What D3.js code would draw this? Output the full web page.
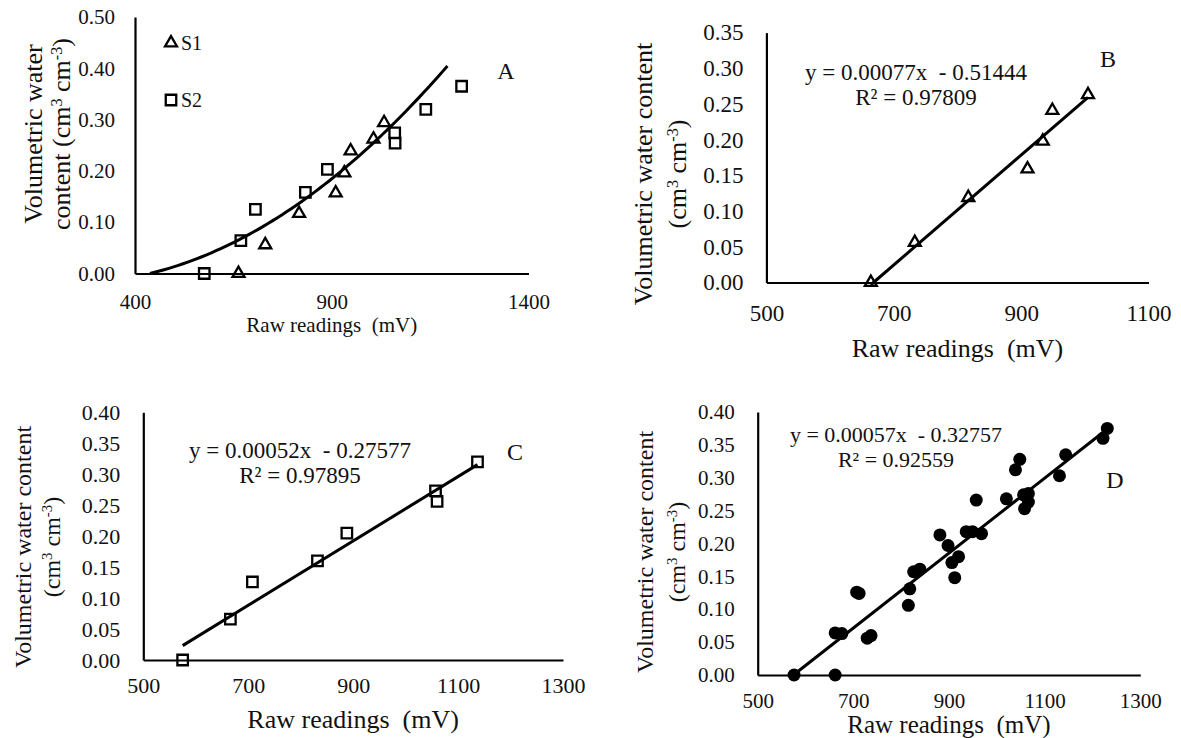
<!DOCTYPE html>
<html>
<head>
<meta charset="utf-8">
<script src="https://cdn.jsdelivr.net/npm/d3@7"></script>
<style>
  body { margin: 0; background: #fff; }
  svg text { font-family: "Liberation Serif", "Times New Roman", serif; fill: #111; }
</style>
</head>
<body>
<script>
// values (raw reading in mV, water content in cm3 cm-3)

// panel A: two sensors
var s1Raw = [663, 731, 817, 910, 932, 948, 1006, 1033];
var s1Vwc = [0, 0.056, 0.117, 0.157, 0.196, 0.239, 0.262, 0.294];
var s2Raw = [576, 669, 706, 833, 889, 1060, 1061, 1139, 1230];
var s2Vwc = [0, 0.064, 0.125, 0.158, 0.203, 0.274, 0.254, 0.320, 0.365];
var fitA = [4.62e-7, -0.000219, 0.0074];   // quadratic trend, a x^2 + b x + c
var fitARange = [438, 1202];

// panel B: S1 only
var bRaw = [664, 733, 817, 910, 934, 949, 1005];
var bVwc = [0, 0.056, 0.119, 0.159, 0.198, 0.241, 0.263];
var fitB = [0.00077, -0.51444];

// panel C: S2 only
var cRaw = [575, 666, 708, 832, 888, 1057, 1060, 1137];
var cVwc = [0, 0.066, 0.126, 0.160, 0.205, 0.273, 0.256, 0.320];
var fitC = [0.00052, -0.27577];

// panel D: all readings
var dRaw = [576, 662, 662, 676, 729, 737, 707, 712, 815, 818, 826, 839, 881, 898, 906, 920, 912,
            936, 949, 968, 957, 1020, 1039, 1048, 1056, 1066, 1058, 1066, 1131, 1144, 1222, 1231];
var dVwc = [0, 0, 0.064, 0.063, 0.056, 0.060, 0.126, 0.124, 0.106, 0.131, 0.157, 0.161, 0.213, 0.197, 0.171, 0.180, 0.148,
            0.218, 0.218, 0.215, 0.266, 0.268, 0.312, 0.328, 0.274, 0.276, 0.253, 0.263, 0.303, 0.335, 0.360, 0.375];
var fitD = [0.00057, -0.32757];

// tick labels
var xTicksA = [400, 900, 1400];
var yTicksA = [0, 0.1, 0.2, 0.3, 0.4, 0.5];
var xTicksB = [500, 700, 900, 1100];
var yTicksB = [0, 0.05, 0.1, 0.15, 0.2, 0.25, 0.3, 0.35];
var xTicksCD = [500, 700, 900, 1100, 1300];
var yTicksCD = [0, 0.05, 0.1, 0.15, 0.2, 0.25, 0.3, 0.35, 0.4];

var svg = d3.select('body').append('svg')
    .attr('width', 1181).attr('height', 738);

// one scatter panel: axes, titles, returns scales
function panel(p) {
    var x = d3.scaleLinear().domain(p.xDomain).range([p.left, p.right]);
    var y = d3.scaleLinear().domain(p.yDomain).range([p.bottom, p.top]);
    var g = svg.append('g');

    var ax = g.append('g')
        .attr('transform', 'translate(0,' + p.bottom + ')')
        .call(d3.axisBottom(x).tickValues(p.xTicks).tickSize(0).tickPadding(p.xPad).tickFormat(d3.format('d')));
    var ay = g.append('g')
        .attr('transform', 'translate(' + p.left + ',0)')
        .call(d3.axisLeft(y).tickValues(p.yTicks).tickSize(0).tickPadding(p.yPad).tickFormat(d3.format('.2f')));
    [ax, ay].forEach(function (a) {
        a.attr('font-family', null).attr('font-size', p.tickFont);
        a.select('.domain').attr('stroke', '#000').attr('stroke-width', 2.2);
    });

    // x title
    g.append('text')
        .attr('x', (p.left + p.right) / 2).attr('y', p.xTitleY)
        .attr('text-anchor', 'middle').attr('font-size', p.xTitleFont)
        .style('white-space', 'pre')
        .text('Raw readings  (mV)');

    // y title, two rotated lines
    p.yLines.forEach(function (line, i) {
        var t = g.append('text')
            .attr('transform', 'translate(' + p.yTitleX[i] + ',' + p.yTitleY + ') rotate(-90)')
            .attr('text-anchor', 'middle').attr('dy', '0.35em')
            .attr('font-size', p.yTitleFont);
        line.forEach(function (part) {
            var s = t.append('tspan').text(part[0]);
            if (part[1]) s.attr('baseline-shift', 'super').attr('font-size', p.yTitleFont * 0.62);
        });
    });

    // panel letter
    g.append('text')
        .attr('x', p.letterX).attr('y', p.letterY)
        .attr('text-anchor', 'middle').attr('font-size', 24)
        .text(p.letter);

    // equation
    if (p.eq) {
        g.append('text').attr('x', p.eqX).attr('y', p.eqY)
            .attr('text-anchor', 'middle').attr('font-size', p.eqFont)
            .style('white-space', 'pre')
            .text(p.eq[0]);
        g.append('text').attr('x', p.eqX).attr('y', p.eqY + 25)
            .attr('text-anchor', 'middle').attr('font-size', p.eqFont)
            .text(p.eq[1]);
    }
    return { g: g, x: x, y: y };
}

var unitsLong = [['Volumetric water content']];
var unitsTail = [['(cm'], ['3', true], [' cm'], ['-3', true], [')']];

function linearFit(P, raw, coef) {
    var ext = d3.extent(raw);
    P.g.append('line')
        .attr('x1', P.x(ext[0])).attr('y1', P.y(coef[0] * ext[0] + coef[1]))
        .attr('x2', P.x(ext[1])).attr('y2', P.y(coef[0] * ext[1] + coef[1]))
        .attr('stroke', '#000').attr('stroke-width', 3);
}

function squares(P, raw, vals) {
    P.g.selectAll(null).data(raw).enter().append('path')
        .attr('d', d3.symbol(d3.symbolSquare, 110))
        .attr('transform', function (d, i) { return 'translate(' + P.x(d) + ',' + P.y(vals[i]) + ')'; })
        .attr('fill', 'none').attr('stroke', '#000').attr('stroke-width', 2.3);
}

function triangles(P, raw, vals) {
    P.g.selectAll(null).data(raw).enter().append('path')
        .attr('d', d3.symbol(d3.symbolTriangle, 62))
        .attr('transform', function (d, i) { return 'translate(' + P.x(d) + ',' + P.y(vals[i]) + ')'; })
        .attr('fill', 'none').attr('stroke', '#000').attr('stroke-width', 2.3);
}

// ---- A ----
var A = panel({
    left: 135, right: 528.5, top: 17, bottom: 273.5,
    xDomain: [400, 1400], yDomain: [0, 0.5],
    xTicks: xTicksA, yTicks: yTicksA, xPad: 21, yPad: 20, tickFont: 21,
    xTitleY: 332, xTitleFont: 21,
    yLines: [[['Volumetric water']], [['content (cm'], ['3', true], [' cm'], ['-3', true], [')']]],
    yTitleX: [33, 61], yTitleY: 134, yTitleFont: 26,
    letter: 'A', letterX: 506, letterY: 79
});
var curve = d3.line()
    .x(function (d) { return A.x(d); })
    .y(function (d) { return A.y(fitA[0] * d * d + fitA[1] * d + fitA[2]); })
    .curve(d3.curveMonotoneX);
A.g.append('path')
    .datum(d3.range(fitARange[0], fitARange[1] + 1, 12))
    .attr('d', curve)
    .attr('fill', 'none').attr('stroke', '#000').attr('stroke-width', 3);
triangles(A, s1Raw, s1Vwc);
squares(A, s2Raw, s2Vwc);

// legend
A.g.append('path').attr('d', d3.symbol(d3.symbolTriangle, 62))
    .attr('transform', 'translate(171,43)')
    .attr('fill', 'none').attr('stroke', '#000').attr('stroke-width', 2.3);
A.g.append('text').attr('x', 181).attr('y', 50).attr('font-size', 20).text('S1');
A.g.append('path').attr('d', d3.symbol(d3.symbolSquare, 110))
    .attr('transform', 'translate(171,100)')
    .attr('fill', 'none').attr('stroke', '#000').attr('stroke-width', 2.3);
A.g.append('text').attr('x', 181).attr('y', 107).attr('font-size', 20).text('S2');

// ---- B ----
var B = panel({
    left: 766.4, right: 1148.5, top: 32.6, bottom: 282.5,
    xDomain: [500, 1100], yDomain: [0, 0.35],
    xTicks: xTicksB, yTicks: yTicksB, xPad: 22, yPad: 23, tickFont: 23,
    xTitleY: 357, xTitleFont: 26,
    yLines: [unitsLong, unitsTail],
    yTitleX: [643, 677], yTitleY: 174, yTitleFont: 26,
    letter: 'B', letterX: 1108, letterY: 67,
    eq: ['y = 0.00077x  - 0.51444', 'R\u00B2 = 0.97809'], eqX: 916, eqY: 80, eqFont: 23
});
linearFit(B, bRaw, fitB);
triangles(B, bRaw, bVwc);

// ---- C ----
var C = panel({
    left: 143.3, right: 563, top: 412.3, bottom: 660,
    xDomain: [500, 1300], yDomain: [0, 0.4],
    xTicks: xTicksCD, yTicks: yTicksCD, xPad: 17, yPad: 23, tickFont: 22,
    xTitleY: 728, xTitleFont: 26,
    yLines: [unitsLong, unitsTail],
    yTitleX: [23, 52], yTitleY: 547, yTitleFont: 24,
    letter: 'C', letterX: 515, letterY: 460,
    eq: ['y = 0.00052x  - 0.27577', 'R\u00B2 = 0.97895'], eqX: 300, eqY: 458, eqFont: 23
});
linearFit(C, cRaw, fitC);
squares(C, cRaw, cVwc);

// ---- D ----
var D = panel({
    left: 757.7, right: 1140.3, top: 412, bottom: 675,
    xDomain: [500, 1300], yDomain: [0, 0.4],
    xTicks: xTicksCD, yTicks: yTicksCD, xPad: 18, yPad: 23, tickFont: 21,
    xTitleY: 733, xTitleFont: 25,
    yLines: [unitsLong, unitsTail],
    yTitleX: [645, 677], yTitleY: 552, yTitleFont: 24,
    letter: 'D', letterX: 1115, letterY: 488,
    eq: ['y = 0.00057x  - 0.32757', 'R\u00B2 = 0.92559'], eqX: 896, eqY: 442, eqFont: 22
});
linearFit(D, dRaw, fitD);
D.g.selectAll(null).data(dRaw).enter().append('circle')
    .attr('cx', function (d) { return D.x(d); })
    .attr('cy', function (d, i) { return D.y(dVwc[i]); })
    .attr('r', 6.5)
    .attr('fill', '#000');
</script>
</body>
</html>
